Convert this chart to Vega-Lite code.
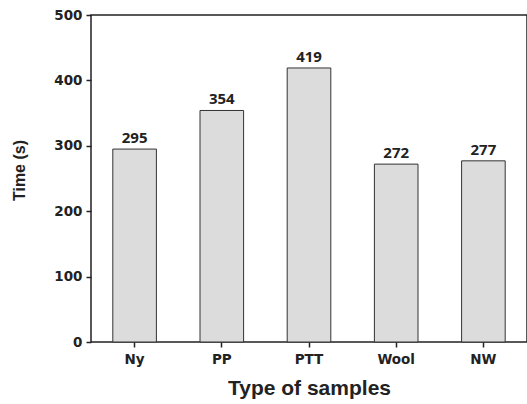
{
  "$schema": "https://vega.github.io/schema/vega-lite/v6.json",
  "width": 436,
  "height": 327,
  "autosize": {"type": "none"},
  "padding": {"left": 91, "top": 15, "right": 0, "bottom": 62},
  "background": "white",
  "config": {
    "view": {"stroke": "#222", "strokeWidth": 1.5},
    "axis": {"domain": false, "grid": false}
  },
  "data": {
    "values": [
      {"sample": "Ny", "time": 295},
      {"sample": "PP", "time": 354},
      {"sample": "PTT", "time": 419},
      {"sample": "Wool", "time": 272},
      {"sample": "NW", "time": 277}
    ]
  },
  "encoding": {
    "x": {
      "field": "sample",
      "type": "nominal",
      "sort": null,
      "scale": {"paddingInner": 0.5, "paddingOuter": 0.25},
      "axis": {
        "title": "Type of samples",
        "titleFont": "Liberation Sans",
        "titleFontSize": 21,
        "titleFontWeight": "bold",
        "titleColor": "#222",
        "titlePadding": 12,
        "labelAngle": 0,
        "labelFont": "DejaVu Sans",
        "labelFontSize": 13.5,
        "labelFontWeight": "bold",
        "labelColor": "#222",
        "labelPadding": 5,
        "tickColor": "#222",
        "tickSize": 5,
        "tickWidth": 1.5
      }
    },
    "y": {
      "field": "time",
      "type": "quantitative",
      "scale": {"domain": [0, 500], "nice": false},
      "axis": {
        "title": "Time (s)",
        "titleFont": "Liberation Sans",
        "titleFontSize": 16,
        "titleFontWeight": "bold",
        "titleColor": "#222",
        "titlePadding": 26,
        "titleY": 155,
        "values": [0, 100, 200, 300, 400, 500],
        "labelFont": "DejaVu Sans",
        "labelFontSize": 13.5,
        "labelFontWeight": "bold",
        "labelColor": "#222",
        "labelPadding": 4,
        "tickColor": "#222",
        "tickSize": 5,
        "tickWidth": 1.5
      }
    }
  },
  "layer": [
    {
      "mark": {"type": "bar", "fill": "#dcdcdc", "stroke": "#333", "strokeWidth": 1}
    },
    {
      "mark": {"type": "text", "baseline": "bottom", "dy": -3, "font": "Open Sans", "fontSize": 15, "fontWeight": "bold", "color": "#222"},
      "encoding": {"text": {"field": "time", "type": "quantitative"}}
    }
  ]
}
